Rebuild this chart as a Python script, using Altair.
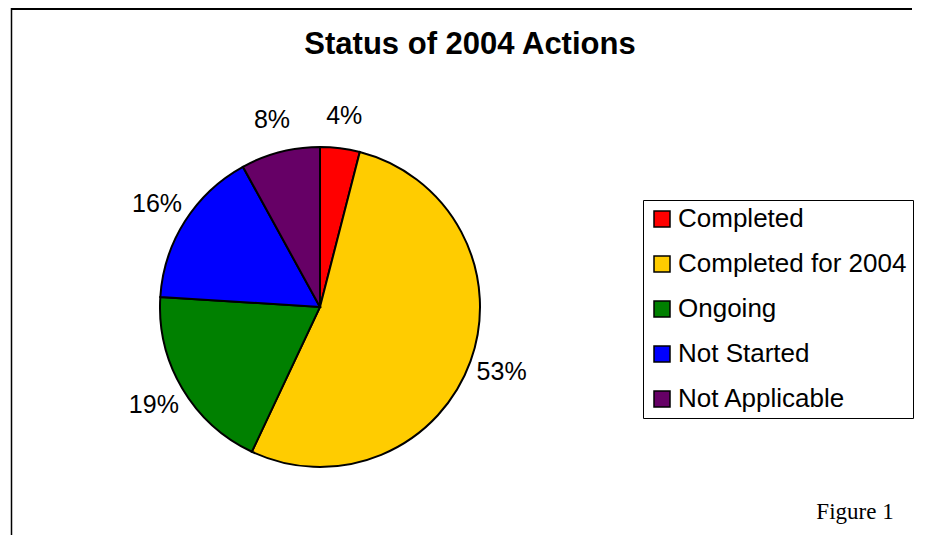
import altair as alt
import pandas as pd

title_text = ["Status of 2004 Actions"]
categories = ["Completed", "Completed for 2004", "Ongoing", "Not Started", "Not Applicable"]
values = [4, 53, 19, 16, 8]
labels = ["4%", "53%", "19%", "16%", "8%"]
colors = ["#FF0000", "#FFCC00", "#008000", "#0000FF", "#660066"]
order = [0, 1, 2, 3, 4]
note_text = ["Figure 1"]

df = pd.DataFrame({"category": categories, "value": values, "label": labels, "order": order})
note = pd.DataFrame({"t": note_text})
ttl = pd.DataFrame({"t": title_text})

CX, CY = 312, 299
SANS = "Liberation Sans"

pie = alt.Chart(df).mark_arc(outerRadius=160, stroke="black", strokeWidth=2).encode(
    theta=alt.Theta("value:Q", stack=True),
    order=alt.Order("order:Q"),
    color=alt.Color(
        "category:N",
        scale=alt.Scale(domain=categories, range=colors),
        legend=alt.Legend(
            orient="none", legendX=635, legendY=192, title=None,
            symbolType="square", symbolSize=256, symbolStrokeColor="black",
            symbolStrokeWidth=1.5, labelFont=SANS, labelFontSize=26,
            labelColor="black", labelOffset=3, labelLimit=500,
            rowPadding=19, padding=6, strokeColor="black", fillColor="white",
        ),
    ),
    x=alt.value(CX), y=alt.value(CY),
)

text = alt.Chart(df).mark_text(radius=193, font=SANS, fontSize=25, color="black").encode(
    theta=alt.Theta("value:Q", stack=True),
    order=alt.Order("order:Q"),
    text="label:N",
    x=alt.value(CX), y=alt.value(CY),
)

frame_top = alt.Chart(note).mark_rule(color="black", strokeWidth=2).encode(
    x=alt.value(3), x2=alt.value(904), y=alt.value(1)
)
frame_left = alt.Chart(note).mark_rule(color="black", strokeWidth=1.5).encode(
    x=alt.value(3.5), y=alt.value(0), y2=alt.value(527)
)
title = alt.Chart(ttl).mark_text(
    font=SANS, fontSize=31, fontWeight="bold", color="black", baseline="alphabetic"
).encode(text="t:N", x=alt.value(462), y=alt.value(46))
fig = alt.Chart(note).mark_text(font="Liberation Serif", fontSize=23, color="black").encode(
    text="t:N", x=alt.value(847), y=alt.value(504)
)

chart = alt.layer(frame_top, frame_left, title, pie, text, fig).properties(
    width=909, height=527, padding=0, autosize="none",
).configure_view(stroke=None)

chart.save("out.html", embed_options={"renderer": "svg", "actions": False})
